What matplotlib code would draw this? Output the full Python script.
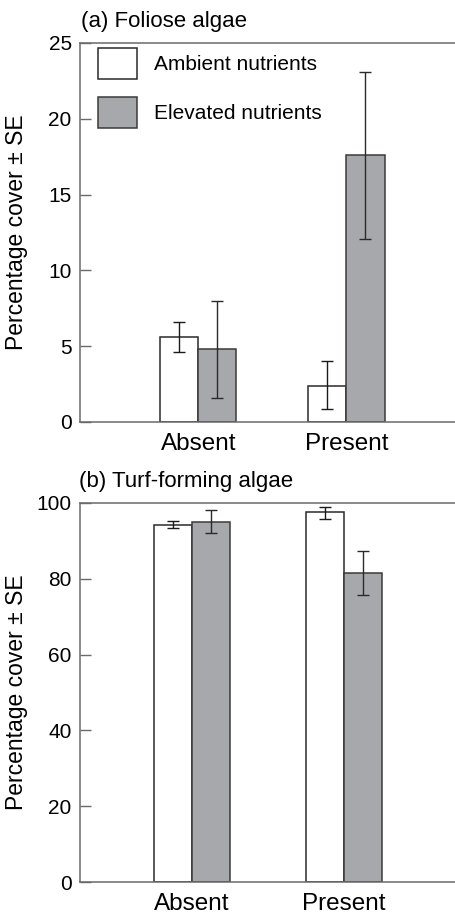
import numpy as np
import matplotlib
matplotlib.use("Agg")
import matplotlib.pyplot as plt

plt.rcParams['font.family'] = ['Liberation Sans', 'DejaVu Sans']

# datos
categories = ["Absent", "Present"]
series_names = ["Ambient nutrients", "Elevated nutrients"]

foliose_ambient = [5.6, 2.4]
foliose_ambient_lo = [4.65, 0.85]
foliose_ambient_hi = [6.6, 4.0]
foliose_elevated = [4.8, 17.6]
foliose_elevated_lo = [1.6, 12.1]
foliose_elevated_hi = [8.0, 23.1]

turf_ambient = [94.3, 97.5]
turf_ambient_lo = [93.4, 95.9]
turf_ambient_hi = [95.3, 99.0]
turf_elevated = [95.1, 81.4]
turf_elevated_lo = [92.0, 75.6]
turf_elevated_hi = [98.2, 87.4]

yticks_a = [0, 5, 10, 15, 20, 25]
yticks_b = [0, 20, 40, 60, 80, 100]

GRAY = "#a7a8ab"
SPINE = "#6a6a6a"


def drawPanel(ax, amb, amb_lo, amb_hi, ele, ele_lo, ele_hi, yticks, xlim, width):
	x = np.arange(len(categories))
	amb = np.array(amb); ele = np.array(ele)
	ax.bar(x - width/2, amb, width, color="white", edgecolor="#2a2a2a", linewidth=1.1, label=series_names[0], zorder=2)
	ax.bar(x + width/2, ele, width, color=GRAY, edgecolor="#3a3a3a", linewidth=1.1, label=series_names[1], zorder=2)
	err_a = [amb - np.array(amb_lo), np.array(amb_hi) - amb]
	err_e = [ele - np.array(ele_lo), np.array(ele_hi) - ele]
	ax.errorbar(x - width/2, amb, yerr=err_a, fmt="none", ecolor="#1a1a1a", elinewidth=1.0, capsize=4, capthick=1.0, zorder=3)
	ax.errorbar(x + width/2, ele, yerr=err_e, fmt="none", ecolor="#2a2a2a", elinewidth=1.0, capsize=4, capthick=1.0, zorder=3)
	ax.set_xlim(*xlim)
	ax.set_ylim(yticks[0], yticks[-1])
	ax.set_yticks(yticks)
	ax.set_xticks(x)
	ax.set_xticklabels(categories, fontsize=17.5)
	ax.tick_params(axis="y", direction="in", length=8, width=1.0, color=SPINE, labelsize=15, pad=6)
	ax.tick_params(axis="x", length=0, pad=8)
	ax.spines["right"].set_visible(False)
	for s in ["left", "top", "bottom"]:
		ax.spines[s].set_color(SPINE)
		ax.spines[s].set_linewidth(1.1)
	ax.set_ylabel("Percentage cover \u00b1 SE", fontsize=16.5)
	ax.yaxis.set_label_coords(-0.138, 0.5)


fig = plt.figure(figsize=(4.56, 9.17), dpi=100)
axA = fig.add_axes([80/456, 495/917, 376/456, 379/917])
axB = fig.add_axes([80/456, 35/917, 376/456, 379/917])

drawPanel(axA, foliose_ambient, foliose_ambient_lo, foliose_ambient_hi,
	foliose_elevated, foliose_elevated_lo, foliose_elevated_hi, yticks_a, (-0.80, 1.74), 0.257)
drawPanel(axB, turf_ambient, turf_ambient_lo, turf_ambient_hi,
	turf_elevated, turf_elevated_lo, turf_elevated_hi, yticks_b, (-0.74, 1.74), 0.25)

fig.text(81/456, 1 - 27/917, "(a) Foliose algae", fontsize=16, va="baseline", ha="left")
fig.text(79/456, 1 - 487/917, "(b) Turf-forming algae", fontsize=16, va="baseline", ha="left")

leg = axA.legend(loc="upper left", bbox_to_anchor=(0.048, 0.987), frameon=False, fontsize=15,
	handlelength=1.87, handleheight=1.91, labelspacing=0.86, handletextpad=0.82,
	borderpad=0, borderaxespad=0)
for h in leg.legend_handles:
	h.set_linewidth(1.1)

fig.savefig("out.png", dpi=100)
